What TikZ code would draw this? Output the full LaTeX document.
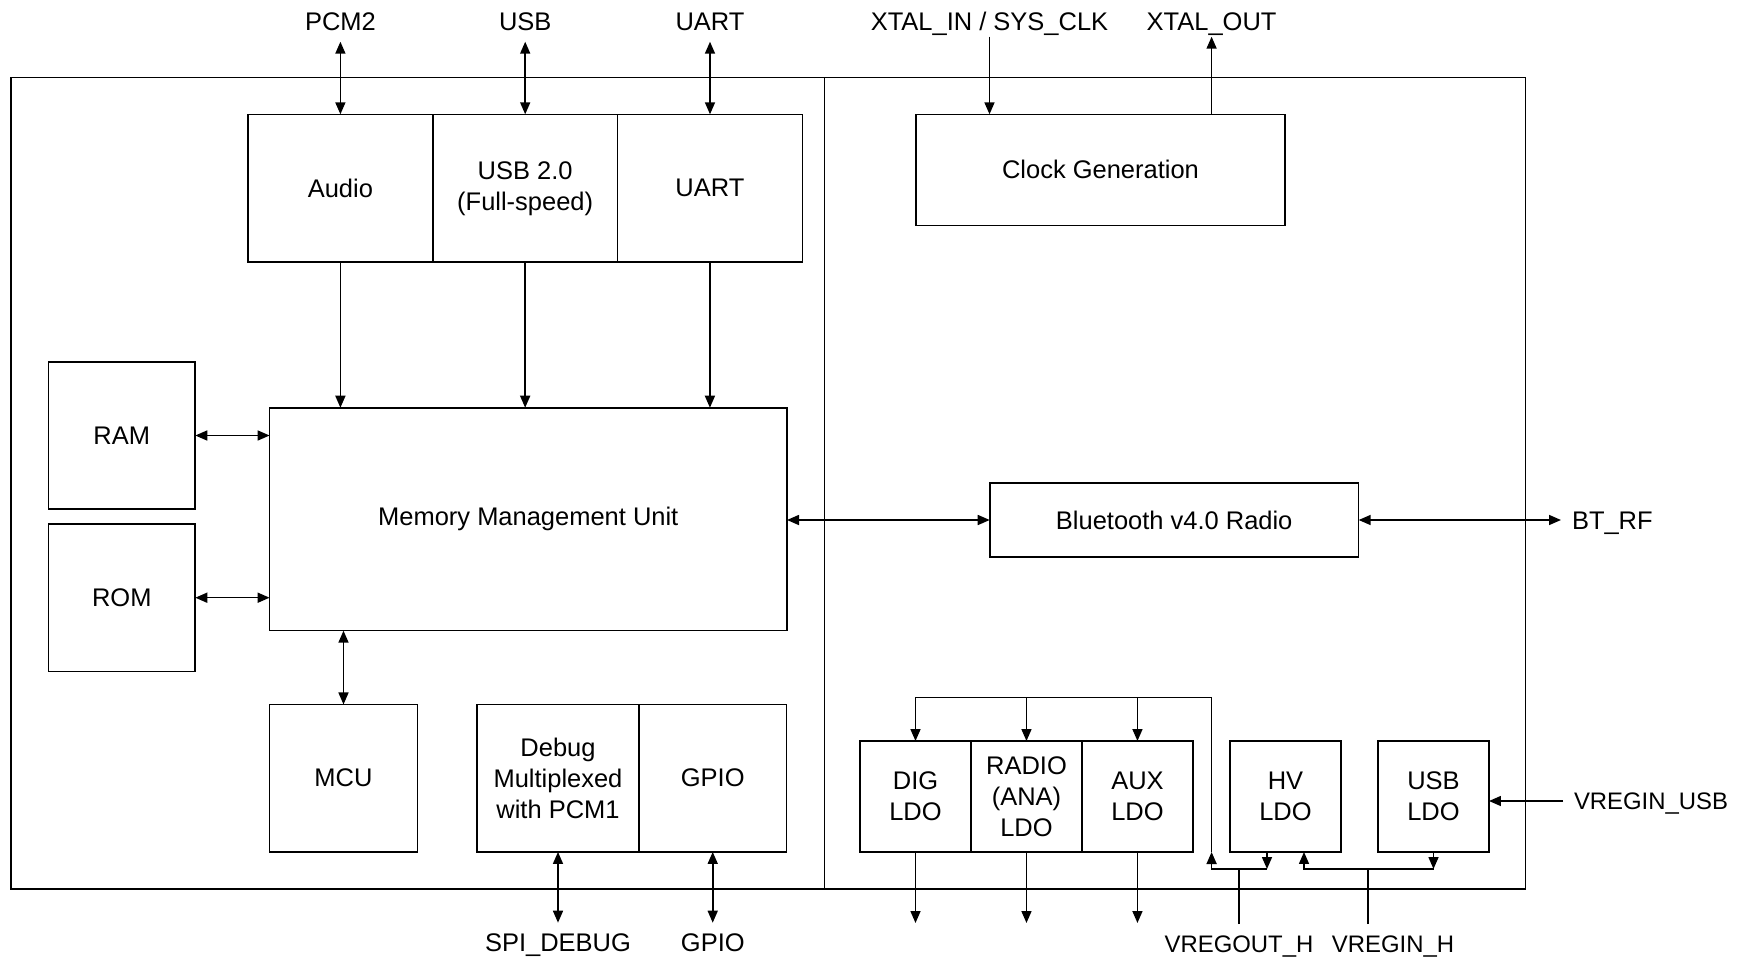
\documentclass[tikz,border=0pt]{standalone}
\usepackage{fontspec}
\setmainfont{Liberation Sans}
\usetikzlibrary{arrows.meta,positioning}

\begin{document}
\begin{tikzpicture}[x=0.02cm, y=-0.02cm, line width=0.9pt,
    >={Triangle[length=0.24cm,width=0.2cm]},
    font=\fontsize{14.5}{17.6}\selectfont,
    blk/.style={draw, inner sep=0pt, outer sep=0pt, align=center},
    pin/.style={inner sep=0pt, outer sep=0.22cm, text height=0.36cm, text depth=0pt},
    smallpin/.style={pin, font=\fontsize{13.6}{17.6}\selectfont, text height=0.34cm}]
            \useasboundingbox (0,0) rectangle (1739,960);

            % two halves of the chip
            \draw (11,77.7) rectangle (824.4,889);
            \draw (824.4,77.7) rectangle (1525.5,889);

            % left half
            \node[blk, minimum width=3.696cm, minimum height=2.96cm] (audio) at (340.4,188.3) {Audio};
            \node[blk, minimum width=3.696cm, minimum height=2.96cm, right=0pt of audio] (usb) {USB 2.0\\(Full-speed)};
            \node[blk, minimum width=3.696cm, minimum height=2.96cm, right=0pt of usb] (uart) {UART};
            \node[blk, minimum width=2.94cm, minimum height=2.95cm] (ram) at (121.8,435.5) {RAM};
            \node[blk, minimum width=2.94cm, minimum height=2.95cm] (rom) at (121.8,597.7) {ROM};
            \node[blk, minimum width=10.35cm, minimum height=4.46cm] (mmu) at (528.3,519.2) {Memory Management Unit};
            \node[blk, minimum width=2.96cm, minimum height=2.95cm] (mcu) at (343.5,778.2) {MCU};
            \node[blk, minimum width=3.24cm, minimum height=2.95cm] (dbg) at (558,778.2) {Debug\\Multiplexed\\with PCM1};
            \node[blk, minimum width=2.95cm, minimum height=2.95cm, right=0pt of dbg] (gpio) {GPIO};

            % right half
            \node[blk, minimum width=7.38cm, minimum height=2.22cm] (clk) at (1100.5,169.8) {Clock Generation};
            \node[blk, minimum width=7.38cm, minimum height=1.48cm] (bt) at (1174.2,520) {Bluetooth v4.0 Radio};
            \node[blk, minimum width=2.22cm, minimum height=2.22cm] (dig) at (915.5,796.5) {DIG\\LDO};
            \node[blk, minimum width=2.22cm, minimum height=2.22cm, right=0pt of dig] (radio) {RADIO\\(ANA)\\LDO};
            \node[blk, minimum width=2.22cm, minimum height=2.22cm, right=0pt of radio] (aux) {AUX\\LDO};
            \node[blk, minimum width=2.22cm, minimum height=2.22cm] (hv) at (1285.5,796.5) {HV\\LDO};
            \node[blk, minimum width=2.22cm, minimum height=2.22cm] (usbldo) at (1433.5,796.5) {USB\\LDO};

            % pins
            \node[pin, anchor=base] (pcm2) at (340.4,30.7) {PCM2};
            \node[pin, anchor=base] (usbpin) at (525.2,30.7) {USB};
            \node[pin, anchor=base] (uartpin) at (710,30.7) {UART};
            \node[pin, anchor=base, outer sep=0.12cm] (xin) at (989.5,30.7) {XTAL\_IN / SYS\_CLK};
            \node[pin, anchor=base, outer sep=0.12cm] (xout) at (1211.6,30.7) {XTAL\_OUT};
            \node[pin, anchor=west] (btrf) at (1561,520) {BT\_RF};
            \node[smallpin, anchor=west] (vusb) at (1563,801) {VREGIN\_USB};
            \node[pin, anchor=base] (spidbg) at (558,951.7) {SPI\_DEBUG};
            \node[pin, anchor=base] (gpiopin) at (712.8,951.7) {GPIO};
            \node[smallpin, anchor=base] (vout) at (1239,952) {VREGOUT\_H};
            \node[smallpin, anchor=base] (vin) at (1393,952) {VREGIN\_H};

            \coordinate (bustop) at (1211.6,697.3);
            \coordinate (busbot) at (1211.6,852);
            \coordinate (jout) at (1239,869);
            \coordinate (jin) at (1368,869);
            \coordinate (ldoout) at (915.5,923);

            % top interfaces
            \draw [<->] (pcm2.south) -- (pcm2.south |- audio.north);
            \draw [<->] (usbpin.south) -- (usbpin.south |- usb.north);
            \draw [<->] (uartpin.south) -- (uartpin.south |- uart.north);
            \draw [->] (audio.south) -- (audio.south |- mmu.north);
            \draw [->] (usb.south) -- (usb.south |- mmu.north);
            \draw [->] (uart.south) -- (uart.south |- mmu.north);

            \draw [<->] (ram.east) -- (ram.east -| mmu.west);
            \draw [<->] (rom.east) -- (rom.east -| mmu.west);
            \draw [<->] (mcu.north) -- (mcu.north |- mmu.south);
            \draw [<->] (dbg.south) -- (dbg.south |- spidbg.north);
            \draw [<->] (gpio.south) -- (gpio.south |- gpiopin.north);

            % clock and radio
            \draw [->] (xin.south) -- (xin.south |- clk.north);
            \draw [->] (xout.south |- clk.north) -- (xout.south);
            \draw [<->] (bt.west -| mmu.east) -- (bt.west);
            \draw [<->] (bt.east) -- (btrf.west);

            % regulators
            \draw (busbot) -- (bustop) -- (dig.north |- bustop);
            \draw [->] (dig.north |- bustop) -- (dig.north);
            \draw [->] (radio.north |- bustop) -- (radio.north);
            \draw [->] (aux.north |- bustop) -- (aux.north);
            \draw [->] (dig.south) -- (ldoout);
            \draw [->] (radio.south) -- (radio.south |- ldoout);
            \draw [->] (aux.south) -- (aux.south |- ldoout);

            \draw [->] ([xshift=-0.37cm]hv.south) -- ([xshift=-0.37cm]hv.south |- jout);
            \draw [->] ([xshift=-0.37cm]hv.south |- jout) -- (busbot |- jout) -- (busbot);
            \draw (vout.north) -- (jout);

            \draw [->] (usbldo.south) -- (usbldo.south |- jin);
            \draw [->] (usbldo.south |- jin) -- ([xshift=0.37cm]hv.south |- jin) -- ([xshift=0.37cm]hv.south);
            \draw (jin |- vin.north) -- (jin);
            \draw [->] (vusb.west) -- (vusb.west -| usbldo.east);

\end{tikzpicture}
\end{document}
